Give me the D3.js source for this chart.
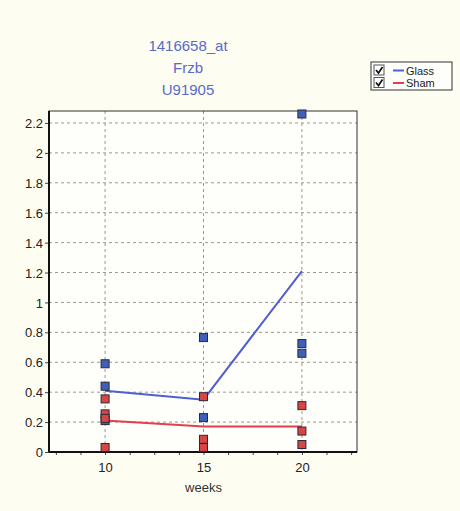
<!DOCTYPE html>
<html>
<head>
<meta charset="utf-8">
<script src="https://cdn.jsdelivr.net/npm/d3@7"></script>
<style>
  body { margin: 0; background: #fdfdf1; }
  text { font-family: "Liberation Sans Narrow", "Liberation Sans", Arial, sans-serif; }
</style>
</head>
<body>
<div id="chart"></div>
<script>
// data
var weeks = [10, 15, 20];
var titleLines = ["1416658_at", "Frzb", "U91905"];
var seriesNames = ["Glass", "Sham"];
var glassPoints = [[10, 0.59], [10, 0.44], [10, 0.21], [15, 0.765], [15, 0.23], [20, 2.26], [20, 0.725], [20, 0.66]];
var shamPoints = [[10, 0.355], [10, 0.255], [10, 0.225], [10, 0.03], [15, 0.37], [15, 0.085], [15, 0.03], [20, 0.31], [20, 0.14], [20, 0.05]];
var glassMean = [0.41, 0.35, 1.21];
var shamMean = [0.21, 0.17, 0.17];
var yTicks = [0, 0.2, 0.4, 0.6, 0.8, 1, 1.2, 1.4, 1.6, 1.8, 2, 2.2];

var svgWidth = 460;
var svgHeight = 511;

var svg = d3.select("#chart")
    .append("svg")
    .attr("width", svgWidth)
    .attr("height", svgHeight);

var chartMargin = { top: 111, right: 103, bottom: 59, left: 49 };
var chartWidth = svgWidth - chartMargin.left - chartMargin.right;
var chartHeight = svgHeight - chartMargin.top - chartMargin.bottom;

var chartGroup = svg.append("g")
    .attr("transform", `translate(${chartMargin.left}, ${chartMargin.top})`);

var xScale = d3.scaleLinear().domain([7.15, 22.8]).range([0, chartWidth]);
var yScale = d3.scaleLinear().domain([0, 2.28]).range([chartHeight, 0]);

// plot background
chartGroup.append("rect")
    .attr("width", chartWidth)
    .attr("height", chartHeight)
    .attr("fill", "#fefefa");

// grid lines
chartGroup.selectAll(".hgrid")
    .data(yTicks.filter(d => d > 0))
    .enter()
    .append("line")
    .attr("x1", 0)
    .attr("x2", chartWidth)
    .attr("y1", d => yScale(d))
    .attr("y2", d => yScale(d))
    .attr("stroke", "#9a9a8a")
    .attr("stroke-dasharray", "3,3");

chartGroup.selectAll(".vgrid")
    .data(weeks)
    .enter()
    .append("line")
    .attr("x1", d => xScale(d))
    .attr("x2", d => xScale(d))
    .attr("y1", 0)
    .attr("y2", chartHeight)
    .attr("stroke", "#9a9a8a")
    .attr("stroke-dasharray", "3,3");

// axes
var minorTicks = d3.range(7.5, 22.6, 1.25);
var bottomAxis = d3.axisBottom(xScale).tickValues(minorTicks).tickSize(3)
    .tickFormat(d => weeks.indexOf(d) >= 0 ? d : "");
var leftAxis = d3.axisLeft(yScale).tickValues(yTicks).tickSize(4).tickFormat(d3.format("~g"));

var xAxisG = chartGroup.append("g")
    .attr("transform", `translate(0, ${chartHeight})`)
    .call(bottomAxis);
var yAxisG = chartGroup.append("g").call(leftAxis);

[xAxisG, yAxisG].forEach(function (g) {
    g.select(".domain").remove();
    g.selectAll("text")
        .attr("font-family", "'Liberation Sans Narrow', 'Liberation Sans', Arial, sans-serif")
        .attr("font-size", "13px")
        .attr("fill", "#222");
    g.selectAll("line").attr("stroke", "#444");
});
xAxisG.selectAll("text").attr("dy", "1.1em");
yAxisG.selectAll("text").attr("dy", "0.35em").attr("x", -6);

// frame
chartGroup.append("rect")
    .attr("width", chartWidth)
    .attr("height", chartHeight)
    .attr("fill", "none")
    .attr("stroke", "#333")
    .attr("stroke-width", 1);
chartGroup.append("line")
    .attr("x1", 0).attr("x2", 0).attr("y1", 0).attr("y2", chartHeight)
    .attr("stroke", "#111").attr("stroke-width", 2);
chartGroup.append("line")
    .attr("x1", 0).attr("x2", chartWidth).attr("y1", chartHeight).attr("y2", chartHeight)
    .attr("stroke", "#111").attr("stroke-width", 2);

// mean lines
var line = d3.line()
    .x((d, i) => xScale(weeks[i]))
    .y(d => yScale(d));

chartGroup.append("path")
    .datum(glassMean)
    .attr("d", line)
    .attr("fill", "none")
    .attr("stroke", "#4f5fd0")
    .attr("stroke-width", 2);

chartGroup.append("path")
    .datum(shamMean)
    .attr("d", line)
    .attr("fill", "none")
    .attr("stroke", "#e0404f")
    .attr("stroke-width", 2);

// points
function drawPoints(data, fill) {
    chartGroup.append("g")
        .selectAll("rect")
        .data(data)
        .enter()
        .append("rect")
        .attr("x", d => xScale(d[0]) - 4)
        .attr("y", d => yScale(d[1]) - 4)
        .attr("width", 8)
        .attr("height", 8)
        .attr("fill", fill)
        .attr("stroke", "#2a2a3a")
        .attr("stroke-width", 1);
}
drawPoints(glassPoints, "#3f5fb8");
drawPoints(shamPoints, "#d84545");

// title
svg.selectAll(".title")
    .data(titleLines)
    .enter()
    .append("text")
    .attr("x", 188)
    .attr("y", (d, i) => 51 + i * 22)
    .attr("text-anchor", "middle")
    .attr("font-size", "15px")
    .attr("fill", "#5a6ac8")
    .text(d => d);

// x label
svg.append("text")
    .attr("x", chartMargin.left + xScale(15))
    .attr("y", 492)
    .attr("text-anchor", "middle")
    .attr("font-size", "13px")
    .attr("fill", "#333")
    .text("weeks");

// legend
var legend = svg.append("g").attr("transform", "translate(371, 62)");
legend.append("rect")
    .attr("width", 81)
    .attr("height", 28)
    .attr("fill", "#fefefa")
    .attr("stroke", "#333");

var legendColors = ["#4f5fd0", "#e0404f"];
seriesNames.forEach(function (name, i) {
    var row = legend.append("g").attr("transform", `translate(3, ${3 + i * 12.5})`);
    row.append("rect")
        .attr("width", 10).attr("height", 10)
        .attr("fill", "#fff")
        .attr("stroke", "#555");
    row.append("path")
        .attr("d", "M2,5 L4.5,8 L8.5,2")
        .attr("fill", "none")
        .attr("stroke", "#111")
        .attr("stroke-width", 1.7);
    row.append("line")
        .attr("x1", 19).attr("x2", 30).attr("y1", 5.5).attr("y2", 5.5)
        .attr("stroke", legendColors[i]).attr("stroke-width", 2);
    row.append("text")
        .attr("x", 32).attr("y", 9.5)
        .attr("font-size", "11px")
        .attr("fill", "#222")
        .text(name);
});
</script>
</body>
</html>
